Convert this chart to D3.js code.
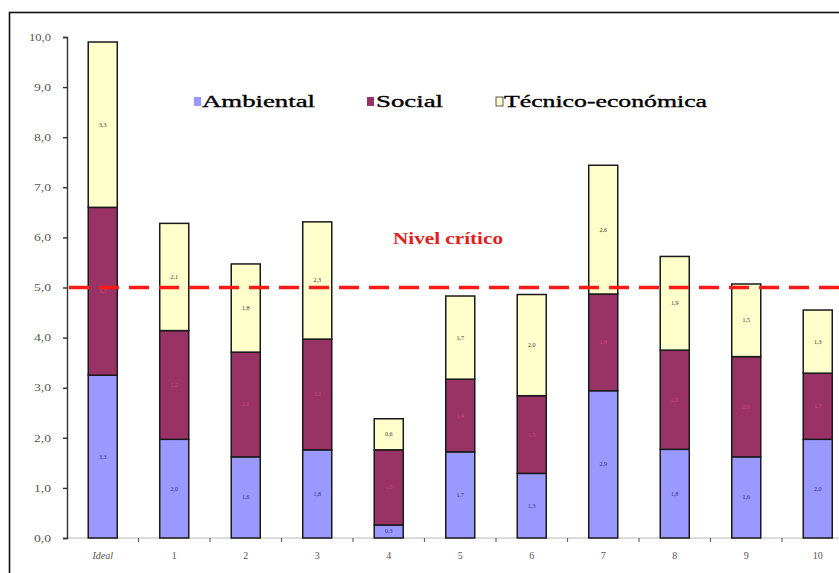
<!DOCTYPE html>
<html>
<head>
<meta charset="utf-8">
<script src="https://cdn.jsdelivr.net/npm/d3@7"></script>
<style>
  html, body { margin: 0; padding: 0; background: #fff; }
  svg { display: block; }
</style>
</head>
<body>
<svg id="chart" width="839" height="573"></svg>
<script>
// Categories along the x axis
const categories = ["Ideal", "1", "2", "3", "4", "5", "6", "7", "8", "9", "10"];

// Score per dimension (stacked)
const ambiental = [3.25, 1.97, 1.62, 1.76, 0.26, 1.72, 1.29, 2.94, 1.77, 1.62, 1.97];
const social    = [3.35, 2.17, 2.09, 2.21, 1.50, 1.45, 1.55, 1.93, 1.98, 2.00, 1.32];
const tecnico   = [3.30, 2.14, 1.76, 2.34, 0.62, 1.66, 2.02, 2.57, 1.87, 1.45, 1.26];

const seriesNames = ["Ambiental", "Social", "Técnico-económica"];
const yTicks = [0, 1, 2, 3, 4, 5, 6, 7, 8, 9, 10];
const criticalLevel = 5.0;
const criticalLabel = "Nivel crítico";

const colors = ["#9999FF", "#993366", "#FFFFCC"];
const labelColors = ["#333377", "#d04a7a", "#333333"];
const serif = "'Liberation Serif', 'Times New Roman', Tinos, serif";

const rows = categories.map((c, i) => ({
  cat: c, Ambiental: ambiental[i], Social: social[i], "Técnico-económica": tecnico[i]
}));
const stacked = d3.stack().keys(seriesNames)(rows);

const svg = d3.select("#chart");

// Chart frame
svg.append("rect")
  .attr("x", 9.5).attr("y", 12.5)
  .attr("width", 860).attr("height", 600)
  .attr("fill", "#fff").attr("stroke", "#111").attr("stroke-width", 1.6);

const x0 = 67, step = 71.5;
const x = d3.scaleBand()
  .domain(categories)
  .range([x0, x0 + step * categories.length])
  .paddingInner(0.594)
  .paddingOuter(0.297);

const y = d3.scaleLinear().domain([0, 10]).range([538, 37]);

// Horizontal base line
svg.append("line")
  .attr("x1", x0).attr("x2", 839)
  .attr("y1", y(0)).attr("y2", y(0))
  .attr("stroke", "#b8b8b8").attr("stroke-width", 1);

// Category separator ticks
svg.append("g").selectAll("line")
  .data(categories.slice(1))
  .join("line")
  .attr("x1", d => x(d) - x.step() * x.paddingInner() / 2)
  .attr("x2", d => x(d) - x.step() * x.paddingInner() / 2)
  .attr("y1", y(0)).attr("y2", y(0) + 4)
  .attr("stroke", "#666").attr("stroke-width", 1.2);

// Y axis
const yAxis = d3.axisLeft(y)
  .tickValues(yTicks)
  .tickSize(4)
  .tickFormat(d => d3.format(".1f")(d).replace(".", ","));
const gy = svg.append("g").attr("transform", `translate(${x0},0)`).call(yAxis);
gy.attr("font-family", serif);
gy.select(".domain").attr("stroke", "#333").attr("stroke-width", 1.4);
gy.selectAll(".tick line").attr("stroke", "#333").attr("stroke-width", 1.4);
gy.selectAll(".tick text")
  .attr("x", -16)
  .attr("fill", "#555")
  .attr("font-family", serif)
  .attr("font-size", 10)
  .attr("textLength", d => d >= 10 ? 22 : 17)
  .attr("lengthAdjust", "spacingAndGlyphs");

// Stacked bars
const layers = svg.append("g").selectAll("g")
  .data(stacked)
  .join("g")
  .attr("fill", (d, i) => colors[i]);

layers.selectAll("rect")
  .data(d => d.map(v => ({ v, cat: v.data.cat })))
  .join("rect")
  .attr("x", d => x(d.cat))
  .attr("y", d => y(d.v[1]))
  .attr("width", x.bandwidth())
  .attr("height", d => y(d.v[0]) - y(d.v[1]))
  .attr("stroke", "#1a1a1a")
  .attr("stroke-width", 1.5);

// Value labels inside each segment
stacked.forEach((layer, si) => {
  svg.append("g").selectAll("text")
    .data(layer)
    .join("text")
    .attr("x", d => x(d.data.cat) + x.bandwidth() / 2)
    .attr("y", d => (y(d[0]) + y(d[1])) / 2 + 2)
    .attr("text-anchor", "middle")
    .attr("fill", labelColors[si])
    .attr("font-family", serif)
    .attr("font-size", 6)
    .text(d => d3.format(".1f")(d[1] - d[0]).replace(".", ","));
});

// X category labels
svg.append("g").selectAll("text")
  .data(categories)
  .join("text")
  .attr("x", d => x(d) + x.bandwidth() / 2)
  .attr("y", 559)
  .attr("text-anchor", "middle")
  .attr("fill", "#555")
  .attr("font-family", serif)
  .attr("font-size", 10)
  .attr("font-style", d => d === "Ideal" ? "italic" : "normal")
  .text(d => d);

// Critical level line
svg.append("line")
  .attr("x1", x0 + 2).attr("x2", 839)
  .attr("y1", y(criticalLevel)).attr("y2", y(criticalLevel))
  .attr("stroke", "#ff1a1a")
  .attr("stroke-width", 3.5)
  .attr("stroke-dasharray", "20,10");

svg.append("text")
  .attr("x", 448).attr("y", 244)
  .attr("text-anchor", "middle")
  .attr("fill", "#e0201c")
  .attr("font-family", serif)
  .attr("font-size", 16)
  .attr("font-weight", "bold")
  .attr("textLength", 110)
  .attr("lengthAdjust", "spacingAndGlyphs")
  .text(criticalLabel);

// Legend
const legendItems = [
  { name: seriesNames[0], sx: 194, tx: 202, tw: 113 },
  { name: seriesNames[1], sx: 367, tx: 376, tw: 67 },
  { name: seriesNames[2], sx: 496, tx: 504, tw: 203 }
];
const legend = svg.append("g");
legend.selectAll("rect")
  .data(legendItems)
  .join("rect")
  .attr("x", d => d.sx).attr("y", 97)
  .attr("width", 7).attr("height", 9)
  .attr("fill", (d, i) => colors[i])
  .attr("stroke", (d, i) => i === 2 ? "#333" : "none")
  .attr("stroke-width", 0.8);
legend.selectAll("text")
  .data(legendItems)
  .join("text")
  .attr("x", d => d.tx).attr("y", 107)
  .attr("fill", "#000")
  .attr("stroke", "#000")
  .attr("stroke-width", 0.35)
  .attr("font-family", serif)
  .attr("font-size", 17)
  .attr("textLength", d => d.tw)
  .attr("lengthAdjust", "spacingAndGlyphs")
  .text(d => d.name);
</script>
</body>
</html>
